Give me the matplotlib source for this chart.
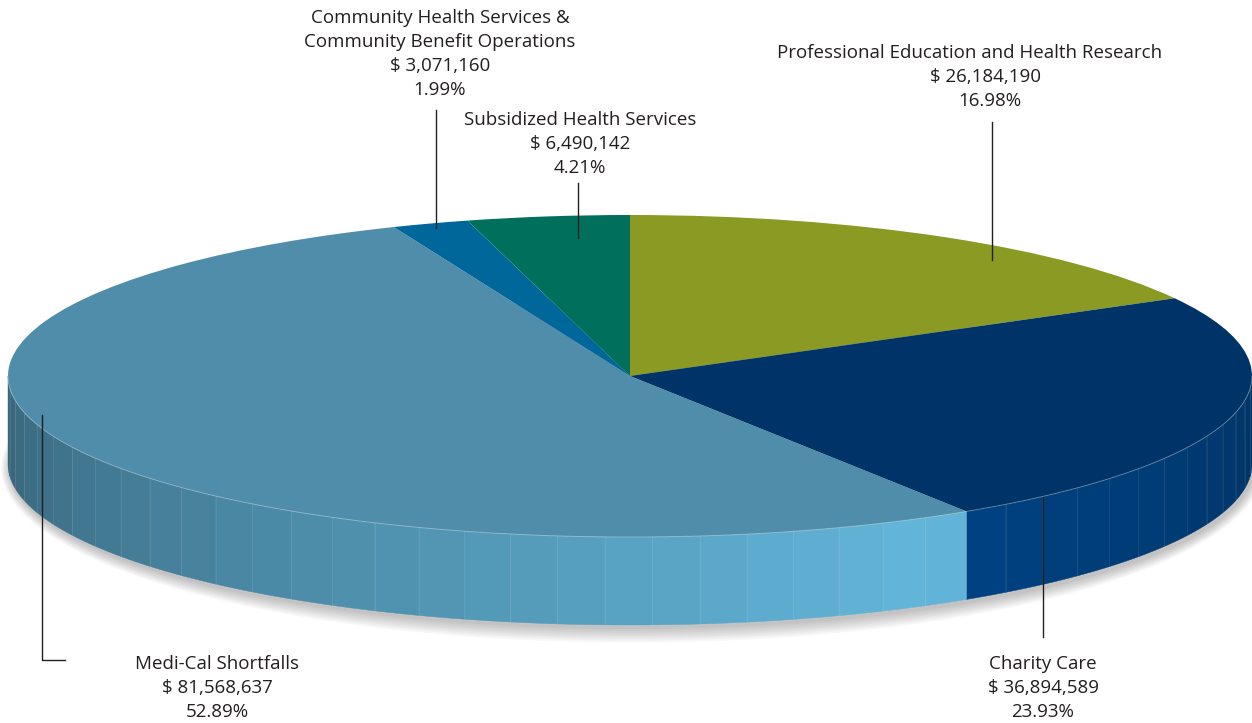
import matplotlib
matplotlib.use("Agg")
import matplotlib.pyplot as plt
from matplotlib.patches import Polygon, Ellipse
from matplotlib.lines import Line2D
import matplotlib.colors as mcolors
import numpy as np

plt.rcParams['font.family'] = ['Open Sans', 'DejaVu Sans']

# Data
names = ["Professional Education and Health Research",
         "Charity Care",
         "Medi-Cal Shortfalls",
         "Community Health Services &\nCommunity Benefit Operations",
         "Subsidized Health Services"]
amounts = [26184190, 36894589, 81568637, 3071160, 6490142]
top_colors = ['#8a9a22', '#003468', '#4f8dab', '#00679a', '#00705d']
side_colors = ['#9fb02a', '#004384', '#63b5da', '#0077b0', '#008068']

total = sum(amounts)
percents = [a / total * 100 for a in amounts]

# layout in pixels
W, H = 1252, 723
cx, cy, rx, ry, depth_px = 630, 376, 622, 161, 88
depth = depth_px / ry
light = -62.0   # angle of the brightest side strip (deg)

# per label: x centre of each line, first baseline, line step
label_x = [[970, 986, 990], [1043], [217], [440], [580]]
label_y0 = [58, 669, 669, 23, 125]
line_step = 24
leaders = [[(992, 122), (992, 260)],
           [(1043, 497), (1043, 637)],
           [(42, 415), (42, 660), (65, 660)],
           [(436, 110), (436, 228)],
           [(578, 183), (578, 238)]]

fig = plt.figure(figsize=(W / 100, H / 100), dpi=100)
ax = fig.add_axes([0, 0, 1, 1])

def px(x, y):
    return (x / W, 1 - y / H)

# soft shadow under the disc
for k in range(8):
    ax.add_patch(Ellipse((0.003, -depth - 0.025), 2 * (1.0 + 0.002 * k), 2 * (1.0 + 0.012 * k),
                         facecolor='black', alpha=0.03, linewidth=0))

# side wall (front half only), drawn as vertical strips
fracs = np.array(amounts) / total
cum = np.concatenate([[0], np.cumsum(fracs)])
for i in range(len(amounts)):
    a0 = 90 - 360 * cum[i]
    a1 = 90 - 360 * cum[i + 1]
    base = np.array(mcolors.to_rgb(side_colors[i]))
    for shift in (0, 360):
        lo = max(a1 + shift, -180)
        hi = min(a0 + shift, 0)
        if lo >= hi:
            continue
        nstrip = max(1, int(np.ceil((hi - lo) / 4.5)))
        edges = np.linspace(lo, hi, nstrip + 1)
        for t0, t1 in zip(edges[:-1], edges[1:]):
            th = np.radians(np.linspace(t0, t1, 12))
            top = np.column_stack([np.cos(th), np.sin(th)])
            bot = np.column_stack([np.cos(th[::-1]), np.sin(th[::-1]) - depth])
            mid = (t0 + t1) / 2
            f = max(0.56, 1 - 0.0038 * abs(mid - light))
            col = np.clip(base * f, 0, 1)
            ax.add_patch(Polygon(np.vstack([top, bot]), closed=True,
                                 facecolor=col, edgecolor=col, linewidth=0.3))
        for t in edges[1:-1]:
            r = np.radians(t)
            ax.plot([np.cos(r), np.cos(r)], [np.sin(r), np.sin(r) - depth],
                    color='white', alpha=0.09, linewidth=0.6)

# top surface
ax.pie(amounts, colors=top_colors, startangle=90, counterclock=False, radius=1,
       wedgeprops=dict(linewidth=0))

# faint highlight along the front rim
th = np.radians(np.linspace(-180, 0, 200))
ax.plot(np.cos(th), np.sin(th), color='white', alpha=0.3, linewidth=0.7)

ax.set_aspect('auto')
ax.set_xlim(-cx / rx, (W - cx) / rx)
ax.set_ylim((cy - H) / ry, cy / ry)
ax.axis('off')

# labels
for i in range(len(names)):
    lines = names[i].split('\n') + [f"$ {amounts[i]:,}", f"{percents[i]:.2f}%"]
    for j, s in enumerate(lines):
        x = label_x[i][min(j, len(label_x[i]) - 1)]
        y = label_y0[i] + j * line_step
        fig.text(*px(x, y), s, ha='center', va='baseline', fontsize=13.5, color='#231f20')
    pts = [px(x, y) for x, y in leaders[i]]
    fig.add_artist(Line2D([p[0] for p in pts], [p[1] for p in pts],
                          transform=fig.transFigure, color='#231f20', linewidth=1.0))

fig.savefig('out.png', dpi=100)
